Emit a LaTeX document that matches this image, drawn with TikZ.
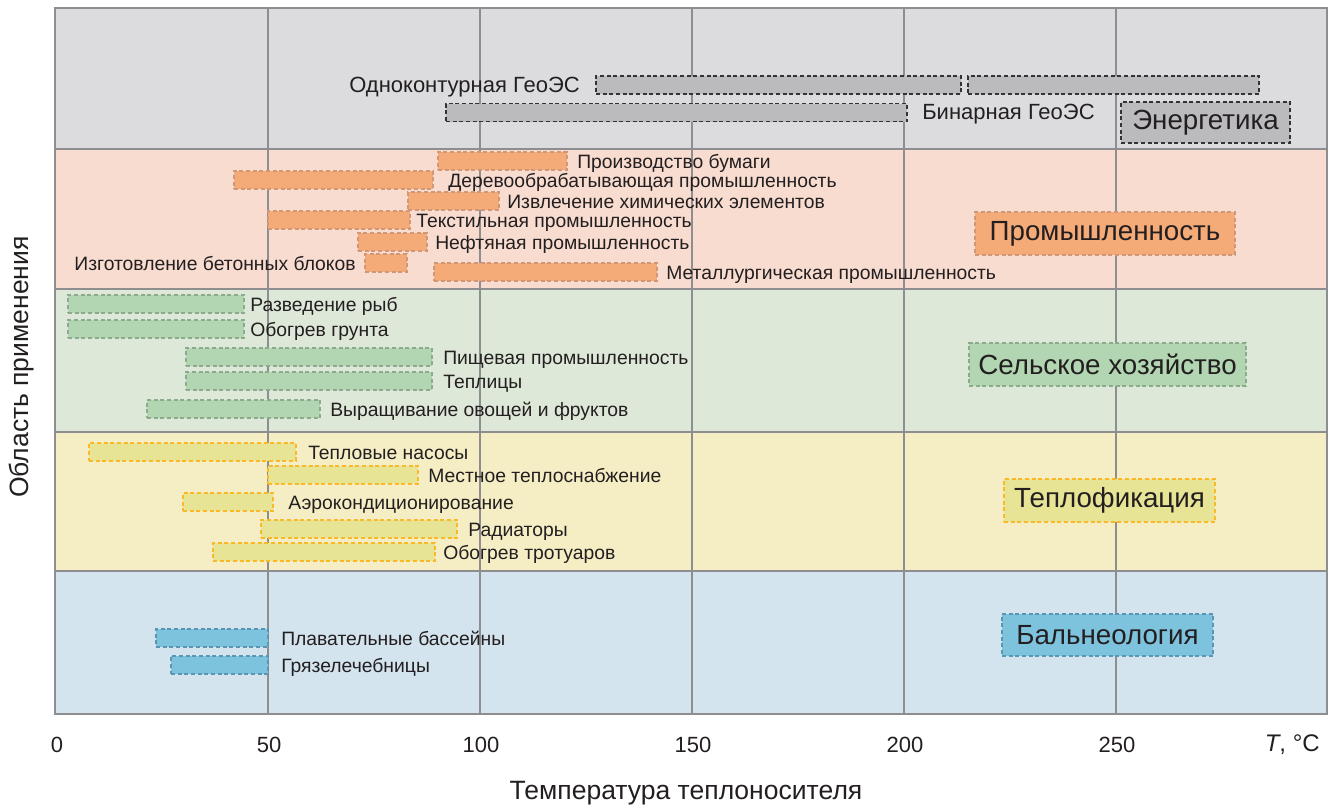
\documentclass[tikz,border=0pt]{standalone}
\usepackage{fontspec}
\setmainfont{Liberation Sans}
\usepackage{tikz}
\usetikzlibrary{positioning}

\definecolor{ink}{HTML}{231F20}
\definecolor{gridc}{HTML}{8E8E90}
\definecolor{enband}{HTML}{DCDCDE}
\definecolor{enbar}{HTML}{BBBBBD}
\definecolor{enline}{HTML}{333333}
\definecolor{inband}{HTML}{F8DCD0}
\definecolor{inbar}{HTML}{F5AB78}
\definecolor{inline}{HTML}{D19878}
\definecolor{agband}{HTML}{DEE8D8}
\definecolor{agbar}{HTML}{B2D6B2}
\definecolor{agline}{HTML}{8CAA8C}
\definecolor{htband}{HTML}{F5EEC5}
\definecolor{htbar}{HTML}{E8E496}
\definecolor{htline}{HTML}{FBB829}
\definecolor{blband}{HTML}{D3E4EE}
\definecolor{blbar}{HTML}{7EC3DE}
\definecolor{blline}{HTML}{5A96B4}

\begin{document}
\begin{tikzpicture}
			[
				x=0.75pt, y=-0.75pt,
				every node/.style={text=ink},
				gridline/.style={draw=gridc, line width=2pt},
				rangebar/.style={line width=1.3pt, dash pattern=on 3pt off 2pt, inner sep=0pt, outer sep=0pt, minimum height=13.5pt},
				enrange/.style={rangebar, draw=enline, fill=enbar},
				inrange/.style={rangebar, draw=inline, fill=inbar},
				agrange/.style={rangebar, draw=agline, fill=agbar},
				htrange/.style={rangebar, draw=htline, fill=htbar},
				blrange/.style={rangebar, draw=blline, fill=blbar},
				lbl/.style={anchor=base west, inner sep=0pt, font=\fontsize{14.5}{17}\selectfont},
				enlbl/.style={lbl, font=\fontsize{16.5}{19}\selectfont},
				cat/.style={minimum height=31.5pt, inner sep=0pt, font=\fontsize{20.8}{24}\selectfont},
				axislbl/.style={inner sep=0pt, font=\fontsize{16.5}{19}\selectfont},
				titlelbl/.style={inner sep=0pt, font=\fontsize{19.9}{23}\selectfont}
			]

			\useasboundingbox (0,0) rectangle (1339,808);

			% bands
			\fill[enband] (55,8) rectangle (1327,149);
			\fill[inband] (55,149) rectangle (1327,289);
			\fill[agband] (55,289) rectangle (1327,432);
			\fill[htband] (55,432) rectangle (1327,571);
			\fill[blband] (55,571) rectangle (1327,714);

			% grid
			\foreach \v in {50,100,...,250}
			\draw[gridline] ({56+\v*4.24},8) -- ({56+\v*4.24},714);
			\foreach \h in {149,289,432,571}
			\draw[gridline] (55,\h) -- (1327,\h);
			\draw[gridline] (55,8) rectangle (1327,714);

			% energy
			\node[enrange, minimum width=273.75pt] (one1) at (778.5,85) {};
			\node[enrange, minimum width=218.25pt] (one2) at (1113.5,85) {};
			\node[enlbl, anchor=base east] (one-t) at (580,92) {Одноконтурная ГеоЭС};
			\node[enrange, minimum width=345.75pt] (bin) at (676.5,112.5) {};
			\node[enlbl] (bin-t) at (922,119.5) {Бинарная ГеоЭС};
			\node[cat, enrange, minimum width=126.75pt, minimum height=30.75pt] (energy) at (1205.5,122.5) {Энергетика};

			% industry
			\foreach \nm/\xa/\xb/\yy/\xt/\txt in {
				pap/438/567/161/577/Производство бумаги,
				wood/234/433/180/448/Деревообрабатывающая промышленность,
				chem/408/499/201/507/Извлечение химических элементов,
				tex/268/410/220/416/Текстильная промышленность,
				oil/358/427/242/435/Нефтяная промышленность,
				met/434/657/272/666/Металлургическая промышленность}
			{
				\node[inrange, minimum width={(\xb-\xa)*0.75pt}] (\nm) at ({(\xa+\xb)/2},\yy) {};
				\node[lbl] (\nm-t) at (\xt,\yy+7) {\txt};
			}
			\node[inrange, minimum width=31.5pt] (conc) at (386,263) {};
			\node[lbl, anchor=base east] (conc-t) at (356,270) {Изготовление бетонных блоков};
			\node[cat, inrange, minimum width=195pt, minimum height=32.25pt] (industry) at (1105,233.5) {Промышленность};

			% agriculture
			\foreach \nm/\xa/\xb/\yy/\xt/\txt in {
				fish/68/244/304/250/Разведение рыб,
				soil/68/244/329/250/Обогрев грунта,
				food/186/432/357/443/Пищевая промышленность,
				green/186/432/381/443/Теплицы,
				veg/147/320/409/330/Выращивание овощей и фруктов}
			{
				\node[agrange, minimum width={(\xb-\xa)*0.75pt}] (\nm) at ({(\xa+\xb)/2},\yy) {};
				\node[lbl] (\nm-t) at (\xt,\yy+7) {\txt};
			}
			\node[cat, agrange, minimum width=207.75pt, minimum height=32.25pt] (agro) at (1107.5,364.5) {Сельское хозяйство};

			% heating
			\foreach \nm/\xa/\xb/\yy/\xt/\txt in {
				pump/89/296/452/308/Тепловые насосы,
				local/268/418/475/428/Местное теплоснабжение,
				air/183/273/502/288/Аэрокондиционирование,
				rad/261/457/529/468/Радиаторы,
				walk/213/435/552/443/Обогрев тротуаров}
			{
				\node[htrange, minimum width={(\xb-\xa)*0.75pt}] (\nm) at ({(\xa+\xb)/2},\yy) {};
				\node[lbl] (\nm-t) at (\xt,\yy+7) {\txt};
			}
			\node[cat, htrange, minimum width=158.25pt, minimum height=32.25pt] (heat) at (1109.5,500.5) {Теплофикация};

			% balneology
			\foreach \nm/\xa/\xb/\yy/\xt/\txt in {
				pool/156/268/638/281/Плавательные бассейны,
				mud/171/268/665/281/Грязелечебницы}
			{
				\node[blrange, minimum width={(\xb-\xa)*0.75pt}] (\nm) at ({(\xa+\xb)/2},\yy) {};
				\node[lbl] (\nm-t) at (\xt,\yy+7) {\txt};
			}
			\node[cat, blrange, minimum width=158.25pt, minimum height=31.5pt] (balneo) at (1107.5,635) {Бальнеология};

			% axes
			\foreach \v in {0,50,...,250}
			\node[axislbl] (tick\v) at ({57+\v*4.24},745) {\v};
			\node[axislbl, anchor=east, font=\fontsize{18}{21}\selectfont] (unit) at (1320,745) {\textit{T}, °C};
			\node[titlelbl] (xtitle) at (686,793) {Температура теплоносителя};
			\node[titlelbl, rotate=90] (ytitle) at (22,367) {Область применения};

		\end{tikzpicture}
\end{document}
